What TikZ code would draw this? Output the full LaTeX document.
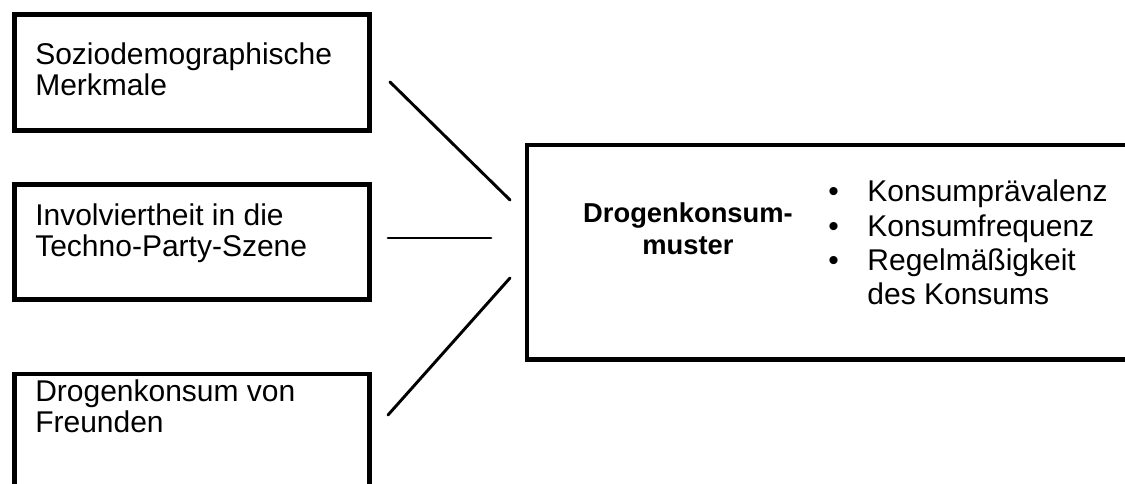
\documentclass[tikz,border=0pt]{standalone}
\usepackage{fontspec}
\setmainfont{Liberation Sans}
\usetikzlibrary{positioning}

\tikzset{
	kasten/.style={draw, line width=3.5pt, inner sep=0pt, outer sep=0pt},
	kastentext/.style={anchor=base west, align=left, inner sep=0pt, font=\fontsize{22.5}{23.5}\selectfont},
	pfad/.style={line width=2.2pt, line cap=round}
}

\begin{document}
\begin{tikzpicture}[x=.75pt, y=-.75pt]
		\useasboundingbox (0,0) rectangle (1125,484);
		% linke Kaesten
		\node[kasten, minimum width=266.25pt, minimum height=87pt] (sozio) at (192,72.5) {};
		\node[kasten, minimum width=266.25pt, minimum height=86.25pt] (szene) at (192,242) {};
		\node[kasten, minimum width=266.25pt, minimum height=87pt] (freunde) at (192,432) {};
		\node[kastentext] (soziotext) at (35,96) {Soziodemographische\\Merkmale};
		\node[kastentext] (szenetext) at (35,257) {Involviertheit in die\\Techno-Party-Szene};
		\node[kastentext] (freundetext) at (35,433) {Drogenkonsum von\\Freunden};
		% rechter Kasten
		\node[kasten, minimum width=456pt, minimum height=160.9pt] (muster) at (831,252.25) {};
		\node[anchor=base, align=center, inner sep=0pt, font=\bfseries\fontsize{20.5}{24}\selectfont] (mustertext) at (688,255) {Drogenkonsum-\\muster};
		\node[anchor=base west, inner sep=0pt, font=\fontsize{22.5}{25.7}\selectfont] (liste) at (828,202)
			{\begin{tabular}[t]{@{}l@{\hspace{21.5pt}}l@{}}
			\textbullet & Konsumprävalenz\\
			\textbullet & Konsumfrequenz\\
			\textbullet & Regelmäßigkeit\\
			 & des Konsums
			\end{tabular}};
		% Verbindungen
		\coordinate (sozio-a) at (390,82);
		\coordinate (sozio-b) at (510,200);
		\coordinate (szene-a) at (388,238);
		\coordinate (szene-b) at (491,238);
		\coordinate (freunde-a) at (388,415);
		\coordinate (freunde-b) at (510,278);
		\draw[pfad] (sozio-a) -- (sozio-b);
		\draw[pfad] (szene-a) -- (szene-b);
		\draw[pfad] (freunde-a) -- (freunde-b);
	\end{tikzpicture}
\end{document}
